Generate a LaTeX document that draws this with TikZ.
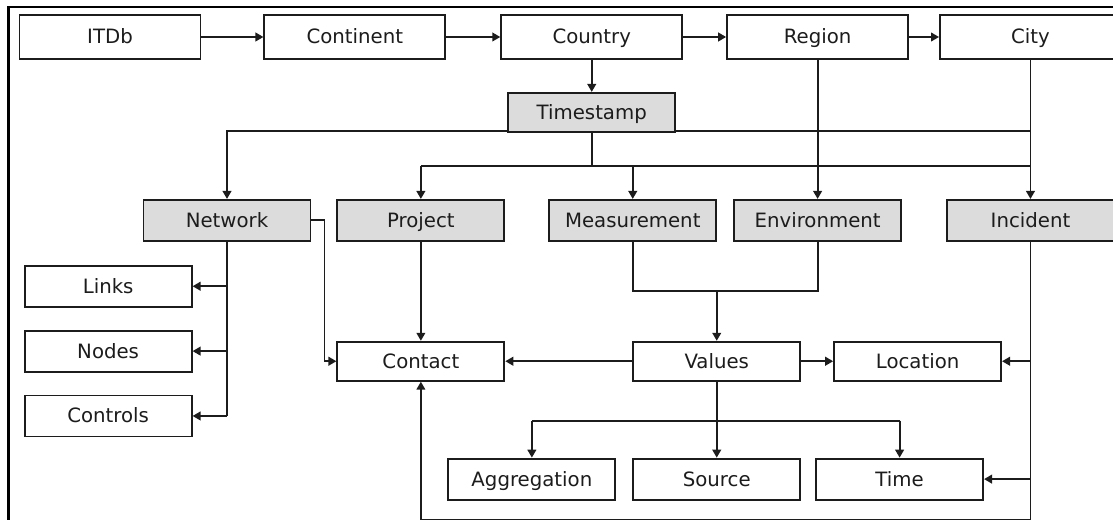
\documentclass[tikz,border=0pt]{standalone}
\usepackage{fontspec}
\setmainfont{DejaVu Sans}
\usetikzlibrary{arrows.meta,positioning,calc}
\definecolor{DbLine}{RGB}{28,28,28}
\definecolor{DbShade}{RGB}{220,220,220}
\tikzset{
  tablebox/.style={draw=DbLine, fill=white, line width=1.4pt, text=DbLine,
                align=center, font=\fontsize{14.8}{17}\selectfont, inner sep=0pt,
                text height=13.5pt, text depth=3pt,
                minimum width=125.25pt, minimum height=30.75pt},
  tabletop/.style={tablebox, minimum width=135.75pt, minimum height=33pt},
  tableshade/.style={tablebox, fill=DbShade},
  conn/.style={-{Triangle[length=6pt,width=6.5pt]}, line width=1.4pt, DbLine},
  connline/.style={line width=1.4pt, DbLine},
  frameline/.style={line width=1.8pt, black},
}

\begin{document}
\begin{tikzpicture}[x=0.75pt, y=-0.75pt]
  \useasboundingbox (0,0) rectangle (1113,520);
  \draw[frameline] (8.5,520) |- (1113,7);

  % Linha superior
  \node[tabletop] (itdb) at (110,37) {ITDb};
  \node[tabletop, right=46.5pt of itdb] (continent) {Continent};
  \node[tabletop, right=40.5pt of continent] (country) {Country};
  \node[tabletop, right=32.25pt of country] (region) {Region};
  \node[tabletop, right=22.5pt of region] (city) {City};
  \node[tableshade, below=24pt of country, minimum height=29.25pt] (timestamp) {Timestamp};

  % Tabelas principais
  \node[tableshade, below=104.25pt of region] (environment) {Environment};
  \node[tableshade, below=104.25pt of city] (incident) {Incident};
  \node[tableshade, left=12pt of environment] (measurement) {Measurement};
  \node[tableshade, left=32.25pt of measurement] (project) {Project};
  \node[tableshade, left=18.75pt of project] (network) {Network};

  % Rede
  \node[tablebox, below=17.25pt of network.south west, anchor=north east, xshift=37.5pt] (links) {Links};
  \node[tablebox, below=16.5pt of links] (nodes) {Nodes};
  \node[tablebox, below=16.5pt of nodes] (controls) {Controls};

  % Valores
  \node[tablebox, below=74.25pt of project, minimum height=29.25pt] (contact) {Contact};
  \node[tablebox, right=95.25pt of contact, minimum height=29.25pt] (values) {Values};
  \node[tablebox, right=24pt of values, minimum height=29.25pt] (location) {Location};
  \node[tablebox, below=57pt of values] (source) {Source};
  \node[tablebox, left=12pt of source] (aggregation) {Aggregation};
  \node[tablebox, right=10.5pt of source] (time) {Time};

  % Pontos auxiliares
  \coordinate (tsLeft) at ([yshift=1.5pt]timestamp.south west);
  \coordinate (tsRight) at ([yshift=1.5pt]timestamp.south east);
  \coordinate (tsBus) at ([yshift=-24.75pt]timestamp.south);
  \coordinate (mvBus) at ([yshift=-36.75pt]measurement.south);
  \coordinate (valBus) at ([yshift=-29.25pt]values.south);
  \coordinate (baseLine) at ([yshift=-14.25pt]aggregation.south);

  % Setas
  \draw[conn] (itdb) -- (continent);
  \draw[conn] (continent) -- (country);
  \draw[conn] (country) -- (region);
  \draw[conn] (region) -- (city);
  \draw[conn] (country) -- (timestamp);
  \draw[conn] (tsLeft) -| (network);
  \draw[connline] (tsRight) -- (tsRight -| city);
  \draw[connline] (timestamp.south) -- (tsBus);
  \draw[connline] (tsBus -| project) -- (tsBus -| city);
  \draw[conn] (tsBus -| project) -- (project);
  \draw[conn] (tsBus -| measurement) -- (measurement);
  \draw[conn] (region) -- (environment);
  \draw[conn] (city) -- (incident);

  \draw[connline] (network.south) -- (network.south |- controls);
  \draw[conn] (network.south |- links) -- (links);
  \draw[conn] (network.south |- nodes) -- (nodes);
  \draw[conn] (network.south |- controls) -- (controls);
  \draw[conn] (network.east) -- ++(9.75pt,0) |- (contact.west);
  \draw[conn] (project) -- (contact);

  \draw[connline] (measurement.south) -- (mvBus) -| (environment.south);
  \draw[conn] (mvBus -| values) -- (values);
  \draw[conn] (values) -- (contact);
  \draw[conn] (values) -- (location);

  \draw[conn] (values) -- (source);
  \draw[connline] (valBus -| aggregation) -- (valBus -| time);
  \draw[conn] (valBus -| aggregation) -- (aggregation);
  \draw[conn] (valBus -| time) -- (time);

  \draw[conn] (incident.south) -- (incident.south |- baseLine) -| (contact);
  \draw[conn] (incident.south |- location) -- (location);
  \draw[conn] (incident.south |- time) -- (time);
\end{tikzpicture}
\end{document}
